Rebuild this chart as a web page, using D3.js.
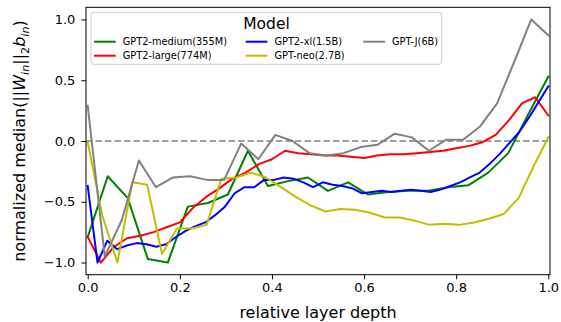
<!DOCTYPE html>
<html><head><meta charset="utf-8">
<script src="https://cdn.jsdelivr.net/npm/d3@7"></script>
<style>html,body{margin:0;padding:0;background:#fff;}svg{display:block;font-family:"DejaVu Sans",sans-serif;}</style>
</head><body>
<svg id="chart" width="561" height="322"></svg>
<script>
const seriesNames = ["GPT2-medium(355M)","GPT2-large(774M)","GPT2-xl(1.5B)","GPT-neo(2.7B)","GPT-J(6B)"];
const seriesColors = ["#008000","#ff0000","#0000ff","#bfbf00","#808080"];
const gpt2Medium = [-0.79,-0.29,-0.47,-0.97,-1.0,-0.54,-0.51,-0.44,-0.08,-0.37,-0.33,-0.30,-0.41,-0.34,-0.44,-0.42,-0.41,-0.41,-0.38,-0.365,-0.26,-0.10,0.22,0.53];
const gpt2Large = [-0.79,-1.0,-0.87,-0.80,-0.78,-0.75,-0.71,-0.67,-0.55,-0.46,-0.39,-0.31,-0.26,-0.19,-0.15,-0.08,-0.10,-0.11,-0.12,-0.12,-0.13,-0.14,-0.12,-0.11,-0.11,-0.10,-0.09,-0.08,-0.06,-0.04,-0.01,0.05,0.17,0.31,0.36,0.21];
const gpt2Xl = [-0.37,-1.0,-0.82,-0.89,-0.86,-0.84,-0.85,-0.87,-0.85,-0.79,-0.74,-0.70,-0.67,-0.61,-0.54,-0.43,-0.38,-0.38,-0.32,-0.32,-0.30,-0.31,-0.34,-0.38,-0.34,-0.36,-0.37,-0.39,-0.43,-0.42,-0.41,-0.42,-0.41,-0.40,-0.41,-0.42,-0.40,-0.37,-0.34,-0.30,-0.26,-0.19,-0.11,-0.02,0.07,0.19,0.32,0.45];
const gptNeo = [-0.01,-0.62,-1.0,-0.34,-0.36,-0.93,-0.72,-0.72,-0.69,-0.31,-0.30,-0.26,-0.30,-0.38,-0.46,-0.53,-0.58,-0.56,-0.565,-0.59,-0.63,-0.63,-0.655,-0.69,-0.68,-0.69,-0.67,-0.64,-0.60,-0.47,-0.21,0.03];
const gptJ = [0.29,-0.95,-0.65,-0.16,-0.38,-0.30,-0.29,-0.32,-0.32,-0.02,-0.15,0.05,0.0,-0.10,-0.12,-0.10,-0.05,-0.03,0.06,0.03,-0.08,0.01,0.01,0.12,0.31,0.65,1.0,0.87];
const seriesValues = [gpt2Medium,gpt2Large,gpt2Xl,gptNeo,gptJ];
const xTicks = [0,0.2,0.4,0.6,0.8,1.0];
const yTicks = [-1.0,-0.5,0,0.5,1.0];

const svg = d3.select("#chart");
const L = 86, R = 550, T = 7.3, B = 274.7;
const x = d3.scaleLinear().domain([-0.0037,1.0037]).range([L,R]);
const y = d3.scaleLinear().domain([-1.1,1.1]).range([B,T]);
const fmt = d => d3.format(".1f")(d).replace("-","\u2212");

// axes
const xAxis = svg.append("g").attr("transform",`translate(0,${B})`)
  .call(d3.axisBottom(x).tickValues(xTicks).tickFormat(fmt).tickSizeOuter(0).tickSizeInner(4.6).tickPadding(3.5));
const yAxis = svg.append("g").attr("transform",`translate(${L},0)`)
  .call(d3.axisLeft(y).tickValues(yTicks).tickFormat(fmt).tickSizeOuter(0).tickSizeInner(4.6).tickPadding(6));
[xAxis,yAxis].forEach(g=>{
  g.select(".domain").remove();
  g.selectAll("text").attr("font-size",13).attr("font-family","DejaVu Sans").attr("fill","#000");
  g.selectAll("line").attr("stroke","#000").attr("stroke-width",1);
});

// zero dashed line
svg.append("line").attr("x1",L).attr("x2",R).attr("y1",y(0)).attr("y2",y(0))
  .attr("stroke","#808080").attr("stroke-width",1.5).attr("stroke-dasharray","6.5,3");

// lines
svg.append("clipPath").attr("id","clip").append("rect")
  .attr("x",L).attr("y",T).attr("width",R-L).attr("height",B-T);
const line = d3.line().x(d=>x(d[0])).y(d=>y(d[1]));
seriesValues.forEach((vals,k)=>{
  const n = vals.length;
  const pts = vals.map((v,i)=>[i/(n-1),v]);
  svg.append("path").datum(pts).attr("d",line).attr("fill","none")
    .attr("stroke",seriesColors[k]).attr("stroke-width",2)
    .attr("stroke-linejoin","round").attr("stroke-linecap","square")
    .attr("clip-path","url(#clip)");
});

// frame
svg.append("rect").attr("x",L).attr("y",T).attr("width",R-L).attr("height",B-T)
  .attr("fill","none").attr("stroke","#000").attr("stroke-width",1);

// labels
svg.append("text").attr("x",(L+R)/2).attr("y",318).attr("text-anchor","middle")
  .attr("font-size",16).text("relative layer depth");
const yl = svg.append("text").attr("transform",`translate(25,${(T+B)/2}) rotate(-90)`)
  .attr("text-anchor","middle").attr("font-size",16);
yl.append("tspan").text("normalized median(||");
yl.append("tspan").attr("font-style","italic").text("W");
yl.append("tspan").attr("font-style","italic").attr("font-size",11.2).attr("dy",3.5).text("in");
yl.append("tspan").attr("dy",-3.5).text("||");
yl.append("tspan").attr("font-size",11.2).attr("dy",3.5).text("2");
yl.append("tspan").attr("font-style","italic").attr("dy",-3.5).text("b");
yl.append("tspan").attr("font-style","italic").attr("font-size",11.2).attr("dy",3.5).text("in");
yl.append("tspan").attr("dy",-3.5).text(")");

// legend
const lg = svg.append("g");
lg.append("rect").attr("x",91).attr("y",12.3).attr("width",350.7).attr("height",52).attr("rx",3)
  .attr("fill","#fff").attr("fill-opacity",0.8).attr("stroke","#cccccc").attr("stroke-width",1);
lg.append("text").attr("x",266.5).attr("y",28.5).attr("text-anchor","middle").attr("font-size",15.5).text("Model");
const colX = [94,245.7,363.3];
const rowY = [41.7,55.7];
seriesNames.forEach((name,k)=>{
  const c = Math.floor(k/2), r = k%2;
  lg.append("line").attr("x1",colX[c]).attr("x2",colX[c]+21.7).attr("y1",rowY[r]).attr("y2",rowY[r])
    .attr("stroke",seriesColors[k]).attr("stroke-width",2);
  lg.append("text").attr("x",colX[c]+28.7).attr("y",rowY[r]).attr("dy","0.35em")
    .attr("font-size",9.8).text(name);
});
</script>
</body></html>
